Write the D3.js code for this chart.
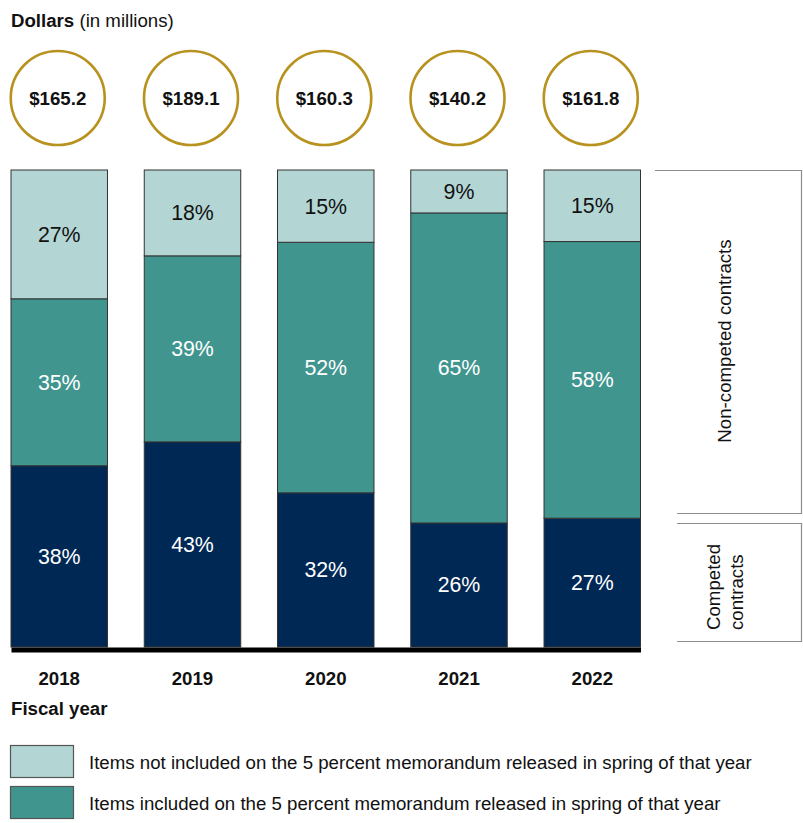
<!DOCTYPE html>
<html>
<head>
<meta charset="utf-8">
<script src="https://cdn.jsdelivr.net/npm/d3@7"></script>
<style>
  html, body { margin: 0; padding: 0; background: #fff; }
  svg { display: block; font-family: "Liberation Sans", Arial, sans-serif; }
</style>
</head>
<body>
<svg id="chart" width="803" height="823"></svg>
<script>
// Fiscal years and total dollars (in millions)
const years = ["2018", "2019", "2020", "2021", "2022"];
const totals = [165.2, 189.1, 160.3, 140.2, 161.8];

// Shares of each year's total, in percent
const notOnMemo = [27, 18, 15, 9, 15];    // non-competed, not on the memorandum
const onMemo = [35, 39, 52, 65, 58];      // non-competed, on the memorandum
const competed = [38, 43, 32, 26, 27];    // competed contracts

const seriesKeys = ["competed", "onMemo", "notOnMemo"];
const legendLabels = [
  "Items not included on the 5 percent memorandum released in spring of that year",
  "Items included on the 5 percent memorandum released in spring of that year"
];

const colors = { notOnMemo: "#b3d6d4", onMemo: "#40968f", competed: "#002855" };
const labelColors = { notOnMemo: "#111", onMemo: "#fff", competed: "#fff" };
const baseFont = "18.67px";

const table = years.map((y, i) => ({
  year: y, total: totals[i],
  notOnMemo: notOnMemo[i], onMemo: onMemo[i], competed: competed[i]
}));

const svg = d3.select("#chart");

const x = d3.scaleBand().domain(years).range([11, 640.5]).paddingInner(0.276).paddingOuter(0);
const y = d3.scaleLinear().domain([0, 1]).range([647, 170]);

const stack = d3.stack().keys(seriesKeys).offset(d3.stackOffsetExpand);
const layers = stack(table);

// Title
const title = svg.append("text").attr("x", 11).attr("y", 27).style("font-size", baseFont).attr("fill", "#111");
title.append("tspan").attr("font-weight", "bold").text("Dollars");
title.append("tspan").text(" (in millions)");

// Totals in circles
const circles = svg.append("g").selectAll("g").data(table).join("g")
  .attr("transform", d => `translate(${x(d.year) + x.bandwidth() / 2 - 1.5},98)`);
circles.append("circle").attr("r", 47).attr("fill", "#fff")
  .attr("stroke", "#b8921e").attr("stroke-width", 2.6);
circles.append("text").attr("text-anchor", "middle").attr("y", 6.5)
  .attr("font-weight", "bold").style("font-size", baseFont).attr("fill", "#111")
  .text(d => "$" + d3.format(".1f")(d.total));

// Stacked bars
const layerG = svg.append("g").selectAll("g").data(layers).join("g")
  .attr("fill", d => colors[d.key]);
layerG.selectAll("rect").data(d => d).join("rect")
  .attr("x", d => x(d.data.year))
  .attr("width", x.bandwidth())
  .attr("y", d => y(d[1]))
  .attr("height", d => y(d[0]) - y(d[1]))
  .attr("stroke", "#333").attr("stroke-width", 1);

// Percent labels
layers.forEach(layer => {
  svg.append("g").selectAll("text").data(layer).join("text")
    .attr("x", d => x(d.data.year) + x.bandwidth() / 2)
    .attr("y", d => (y(d[0]) + y(d[1])) / 2 + 7.5)
    .attr("text-anchor", "middle")
    .style("font-size", "21.33px")
    .attr("fill", labelColors[layer.key])
    .text(d => d.data[layer.key] + "%");
});

// Baseline and year labels
const xAxis = svg.append("g").attr("transform", "translate(0,649.5)")
  .call(d3.axisBottom(x).tickSize(0).tickSizeOuter(0));
xAxis.select(".domain").attr("stroke", "#000").attr("stroke-width", 5);
xAxis.selectAll(".tick text")
  .attr("y", 35.5).attr("dy", null)
  .attr("font-family", null).attr("font-size", null)
  .style("font-size", baseFont).attr("font-weight", "bold").attr("fill", "#111");

svg.append("text").attr("x", 11).attr("y", 715).attr("font-weight", "bold")
  .style("font-size", baseFont).attr("fill", "#111").text("Fiscal year");

// Brackets grouping the segments
const bracket = svg.append("g").attr("fill", "none").attr("stroke", "#8c8c8c").attr("stroke-width", 1.2);
bracket.append("path").attr("d", "M655,170.5H801.5V513.5H677");
bracket.append("path").attr("d", "M677,523.5H801.5V641.5H677");

svg.append("text")
  .attr("transform", "translate(731,341) rotate(-90)")
  .attr("text-anchor", "middle").style("font-size", baseFont).attr("fill", "#111")
  .text("Non-competed contracts");

const comp = svg.append("text")
  .attr("transform", "translate(720,630) rotate(-90)")
  .attr("text-anchor", "start").style("font-size", baseFont).attr("fill", "#111");
comp.append("tspan").attr("x", 0).attr("dy", 0).text("Competed");
comp.append("tspan").attr("x", 0).attr("dy", 23).text("contracts");

// Legend
const legendKeys = ["notOnMemo", "onMemo"];
const legend = svg.append("g").selectAll("g").data(legendKeys).join("g")
  .attr("transform", (d, i) => `translate(0,${745.5 + i * 41})`);
legend.append("rect").attr("x", 10.5).attr("width", 63).attr("height", 32)
  .attr("fill", d => colors[d]).attr("stroke", "#555").attr("stroke-width", 1.2);
legend.append("text").attr("x", 89).attr("y", 23).style("font-size", baseFont).attr("fill", "#111")
  .text((d, i) => legendLabels[i]);
</script>
</body>
</html>
